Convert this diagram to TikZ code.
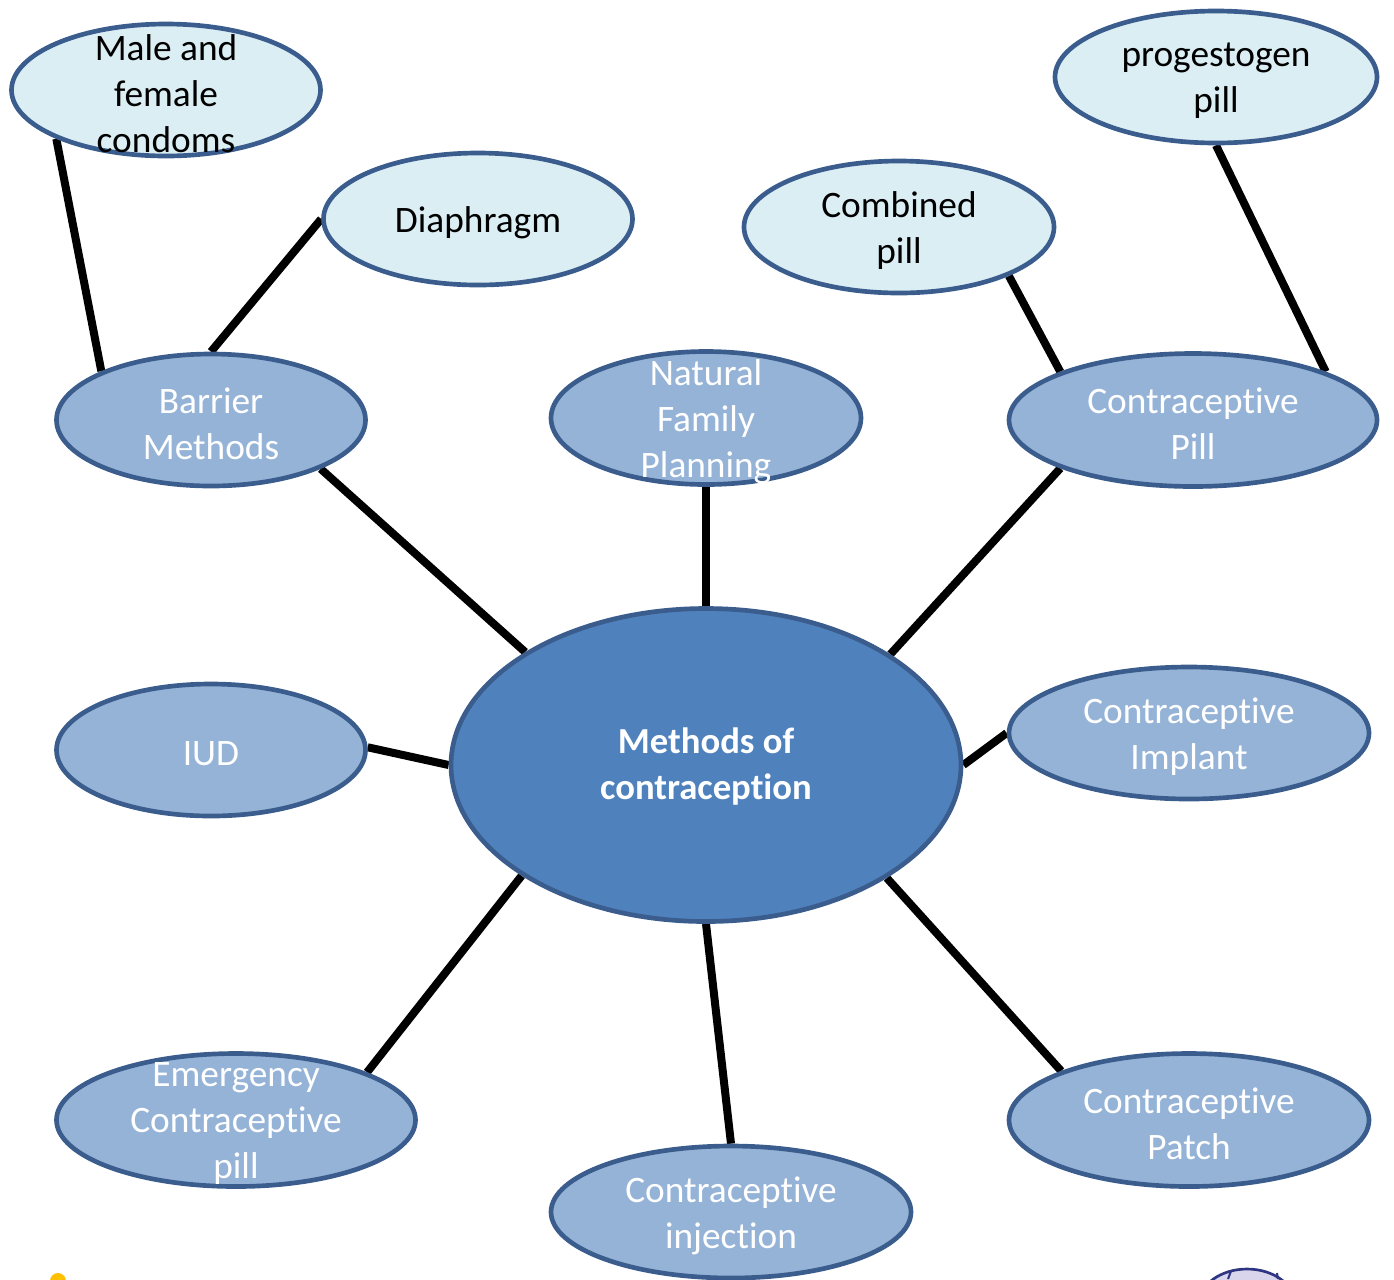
\documentclass[tikz,border=0pt]{standalone}
\usepackage{fontspec}
\setmainfont[Ligatures={NoCommon,NoContextual}]{Carlito}
\usetikzlibrary{shapes.geometric,backgrounds}
\definecolor{cmain}{HTML}{4F81BD}
\definecolor{cmid}{HTML}{95B3D7}
\definecolor{clight}{HTML}{DBEEF4}
\definecolor{cbord}{HTML}{3A5D8D}
\definecolor{cyel}{HTML}{FFC000}
\definecolor{clav}{HTML}{D8D5EC}
\definecolor{cnavy}{HTML}{2E3582}
\begin{document}
\begin{tikzpicture}[x=0.75pt,y=-0.75pt,
 ell/.style={ellipse, draw=cbord, line width=3.5pt, inner sep=0pt},
 sz/.style 2 args={minimum width=#1*0.75pt, minimum height=#2*0.75pt},
 mainn/.style={ell, fill=cmain},
 midn/.style={ell, fill=cmid},
 lightn/.style={ell, fill=clight},
 wtxt/.style={align=center, text=white, inner sep=0pt, yshift=-2.5pt, font=\fontsize{28}{34.5}\selectfont},
 btxt/.style={align=center, text=black, inner sep=0pt, yshift=-2.5pt, font=\fontsize{28}{34.5}\selectfont},
 mtxt/.style={align=center, text=white, inner sep=0pt, yshift=-1.5pt, font=\fontsize{27.5}{34.5}\selectfont\bfseries},
 conn/.style={line width=6pt, black}]
\useasboundingbox (0,0) rectangle (1394,1279);
\clip (0,0) rectangle (1394,1279);

% centre
\node[mainn, sz={510}{313}, label={[mtxt]center:{Methods of\\contraception}}] (c) at (706,765) {};

% first ring
\node[midn, sz={309}{132}, label={[wtxt]center:{Barrier\\Methods}}] (bar) at (211,420) {};
\node[midn, sz={310}{133}, label={[wtxt]center:{Natural\\Family\\Planning}}] (nfp) at (706,418) {};
\node[midn, sz={368}{133}, label={[wtxt]center:{Contraceptive\\Pill}}] (pill) at (1193,420) {};
\node[midn, sz={309}{132}, label={[wtxt]center:{IUD}}] (iud) at (211,750) {};
\node[midn, sz={360}{132}, label={[wtxt]center:{Contraceptive\\Implant}}] (imp) at (1189,733) {};
\node[midn, sz={359}{133}, label={[wtxt]center:{Emergency\\Contraceptive\\pill}}] (em) at (236,1120) {};
\node[midn, sz={360}{132}, label={[wtxt]center:{Contraceptive\\injection}}] (inj) at (731,1212) {};
\node[midn, sz={360}{133}, label={[wtxt]center:{Contraceptive\\Patch}}] (pat) at (1189,1120) {};

% outer ring
\node[lightn, sz={309}{132}, label={[btxt]center:{Male and\\female\\condoms}}] (cond) at (166,90) {};
\node[lightn, sz={309}{132}, label={[btxt]center:{Diaphragm}}] (dia) at (478,219) {};
\node[lightn, sz={310}{132}, label={[btxt]center:{Combined\\pill}}] (comb) at (899,227) {};
\node[lightn, sz={322}{132}, label={[btxt]center:{progestogen\\pill}}] (prog) at (1216,77) {};

% partial decorations at bottom
\fill[cyel] (58,1281) circle (8);
\draw[cnavy, line width=2pt, fill=clav] (1247,1304) ellipse [x radius=48, y radius=35];
\draw[cnavy, line width=1.5pt] (1231,1271) -- (1228,1279);
\draw[cnavy, line width=1.5pt] (1277,1273) -- (1278,1279);

\begin{scope}[on background layer]
\draw[conn] (cond.204) -- (bar.156);
\draw[conn] (dia.180) -- (bar.90);
\draw[conn] (bar.336) -- (c.148);
\draw[conn] (nfp.270) -- (c.90);
\draw[conn] (pill.200.5) -- (c.31.8);
\draw[conn] (comb.336.6) -- (pill.160);
\draw[conn] (prog.270) -- (pill.20);
\draw[conn] (iud.1) -- (c.180);
\draw[conn] (imp.180) -- (c.0);
\draw[conn] (em.20) -- (c.211.6);
\draw[conn] (inj.90) -- (c.270);
\draw[conn] (pat.159.7) -- (c.328.4);
\end{scope}
\end{tikzpicture}
\end{document}
